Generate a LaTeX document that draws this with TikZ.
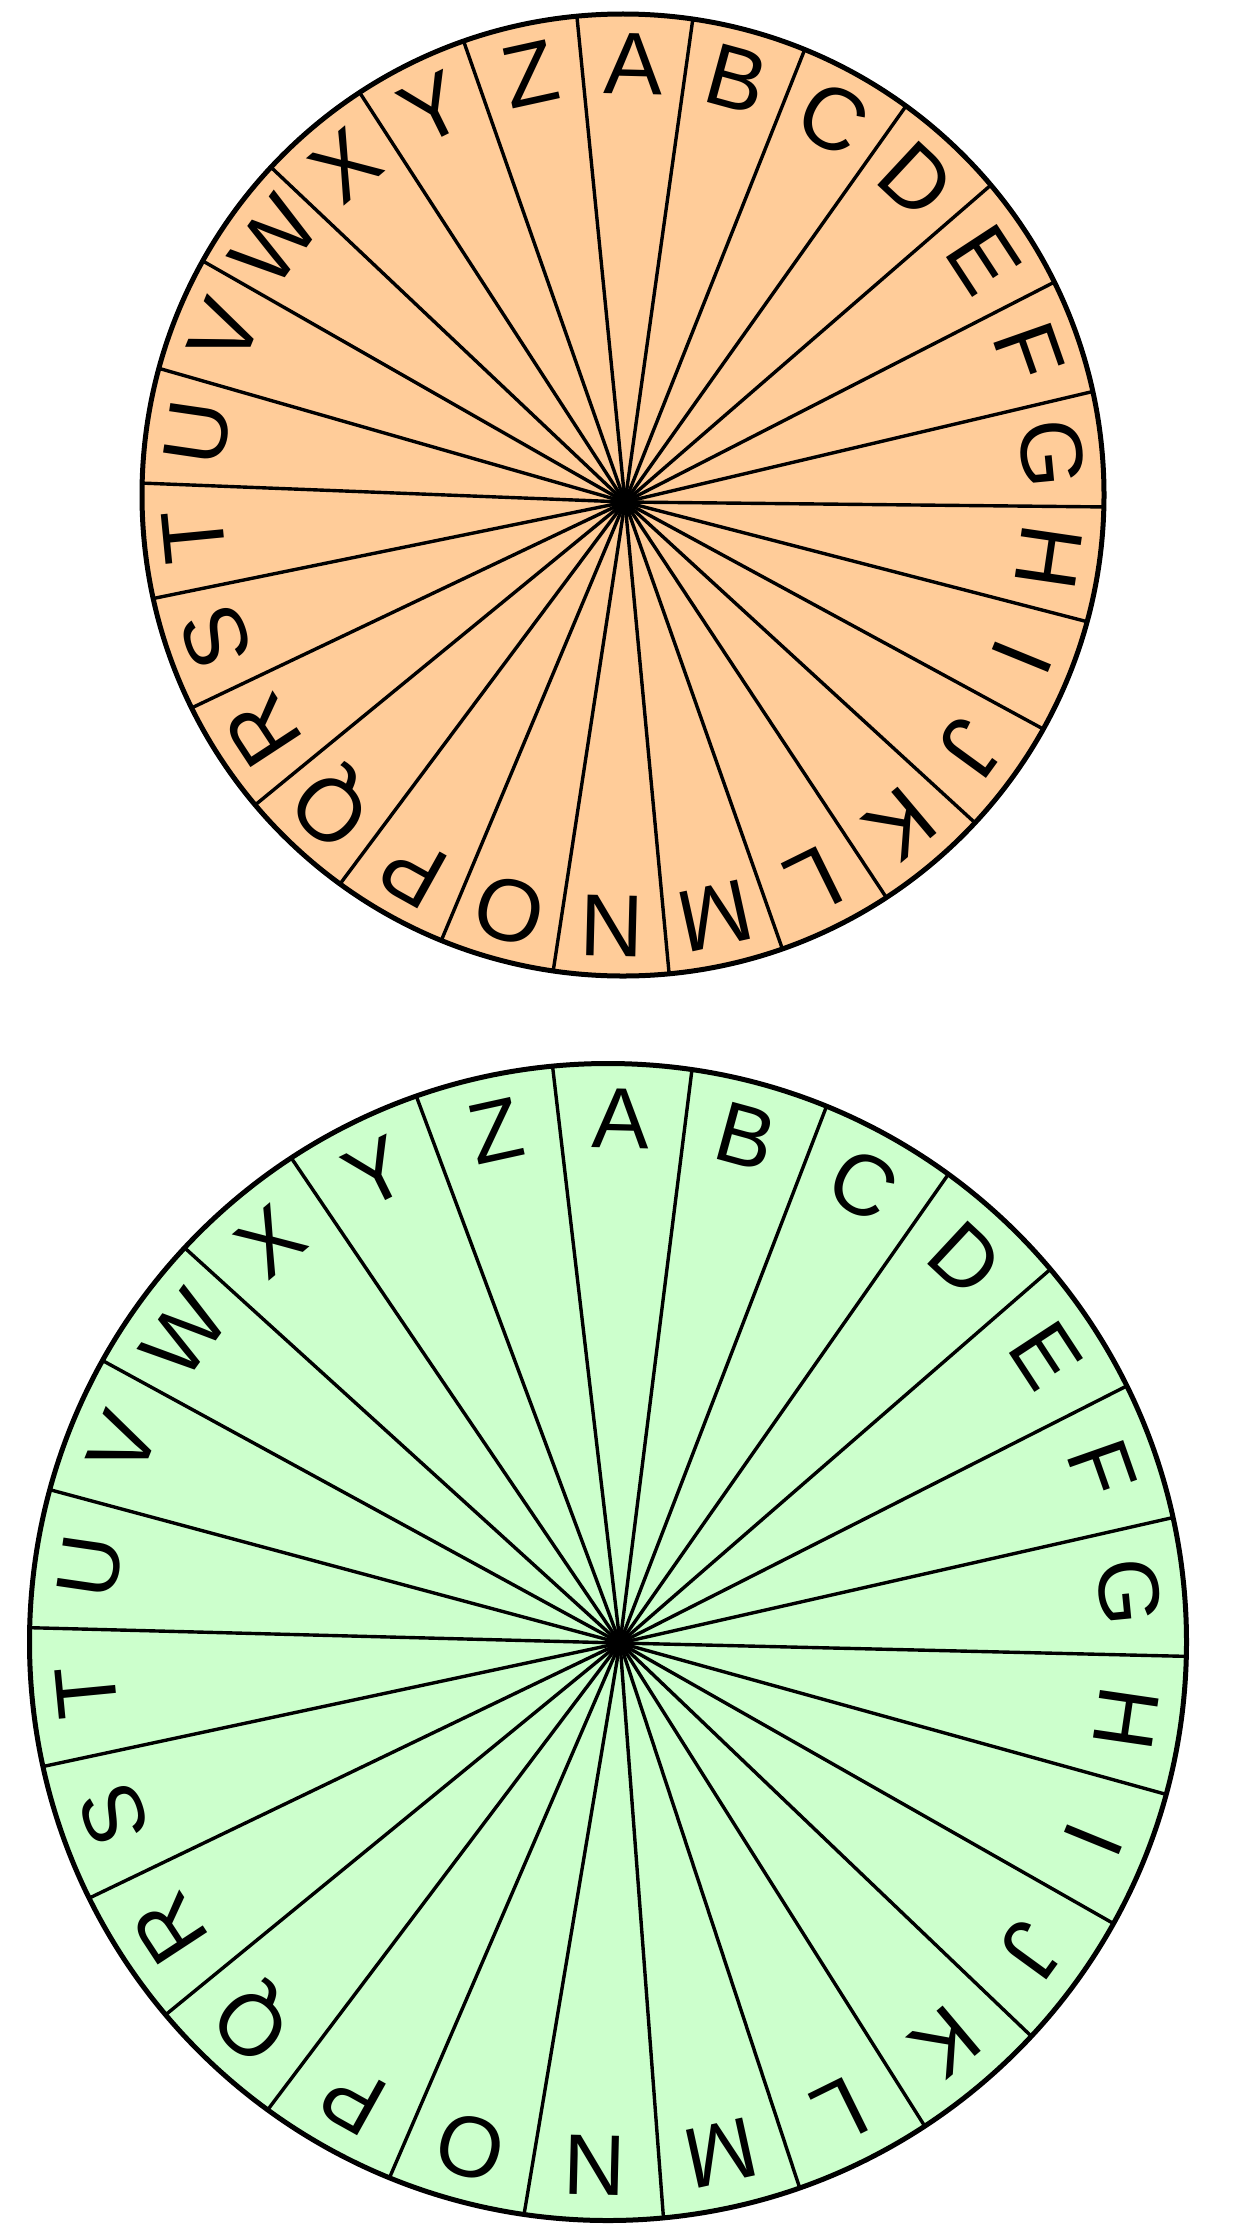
\documentclass[tikz,border=0pt]{standalone}
\usepackage{fontspec}
\setmainfont{Liberation Sans}
\usetikzlibrary{calc}
\definecolor{wheelorange}{RGB}{255,204,153}
\definecolor{wheelgreen}{RGB}{204,255,204}
\begin{document}
\begin{tikzpicture}[x=0.5pt,y=0.5pt,
  spoke/.style={line width=1.7pt},
  rim/.style={line width=2.5pt},
  topglyph/.style={inner sep=0pt, text height=31.5pt, text depth=0pt, font=\fontsize{44}{50}\selectfont},
  botglyph/.style={inner sep=0pt, text height=30.8pt, text depth=0pt, font=\fontsize{43}{50}\selectfont}]
\useasboundingbox (0,0) rectangle (1236,-2232);
% ---------- top wheel ----------
\coordinate (c1) at (623,-495);
\coordinate (h1) at (625,-502);
\fill[wheelorange] (c1) circle[radius=481];
\foreach \k in {0,...,25}{
  \coordinate (p1-\k) at ($(c1)+({95.5-\k*13.846}:481)$);
  \draw[spoke] (h1) -- (p1-\k);
}
\draw[rim] (c1) circle[radius=481];
\foreach \L [count=\i from 0] in {A,B,C,D,E,F,G,H,I,J,K,L,M,N,O,P,Q,R,S,T,U,V,W,X,Y,Z}{
  \node[topglyph, rotate={88.577-\i*13.846-90}] (t-\L) at ($(c1)+({88.577-\i*13.846}:432)$) {\L};
}
% ---------- bottom wheel ----------
\coordinate (c2) at (608,-1642);
\coordinate (h2) at (620,-1643);
\fill[wheelgreen] (c2) circle[radius=578.5];
\foreach \k in {0,...,25}{
  \coordinate (p2-\k) at ($(c2)+({95.5-\k*13.846}:578.5)$);
  \draw[spoke] (h2) -- (p2-\k);
}
\draw[rim] (c2) circle[radius=578.5];
\foreach \L [count=\i from 0] in {A,B,C,D,E,F,G,H,I,J,K,L,M,N,O,P,Q,R,S,T,U,V,W,X,Y,Z}{
  \node[botglyph, rotate={88.577-\i*13.846-90}] (b-\L) at ($(c2)+({88.577-\i*13.846}:525)$) {\L};
}
\end{tikzpicture}
\end{document}
